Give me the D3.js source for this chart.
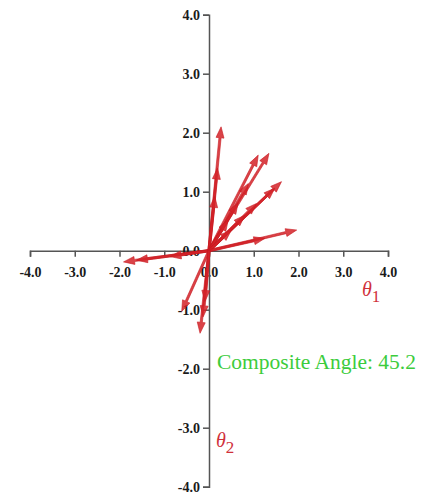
<!DOCTYPE html>
<html lang="en">
    <head>
        <meta charset="utf-8">
        <title>Composite Angle Vectors</title>
        <script type="text/javascript" src="https://d3js.org/d3.v7.min.js"></script>
        <style type="text/css">
            body{
                margin: 0;
                background-color: white;
            }
        </style>
    </head>
    <body>
        <script type="text/javascript">

        //sizes
        const width = 424;
        const height = 500;

        //tick values + labels (same on both axes)
        const tickValues = [-4, -3, -2, -1, 0, 1, 2, 3, 4];
        const tickLabels = ["-4.0", "-3.0", "-2.0", "-1.0", "0.0", "1.0", "2.0", "3.0", "4.0"];

        //arrow tips, every arrow starts at the origin
        const tipX = [0.27, 0.19, 0.13, 1.10, 1.34, 0.88, 0.65, 0.43, 1.62, 1.47, 1.06, 0.80, 0.50, 1.96, 1.25, -1.91, -1.62, -0.87, -0.61, -0.20, -0.13, -0.09];
        const tipY = [2.10, 1.40, 0.92, 1.62, 1.65, 1.14, 0.81, 0.52, 1.17, 1.06, 0.80, 0.60, 0.35, 0.35, 0.21, -0.19, -0.16, -0.10, -1.03, -1.40, -1.12, -0.86];

        //labels
        const compositeAngle = "45.2";

        //SCALES
        const xScale = d3.scaleLinear()
                        .domain([-4, 4])
                        .range([30, 388]);

        const yScale = d3.scaleLinear()
                        .domain([-4, 4])
                        .range([486.7, 14.7]);

        //SVG
        const svg = d3.select("body")
                    .append("svg")
                    .attr("width", width)
                    .attr("height", height);

        //AXES
        const bottomAxis = d3.axisBottom(xScale)
                             .tickValues(tickValues)
                             .tickFormat((d, i) => tickLabels[i])
                             .tickSize(6)
                             .tickPadding(10);

        const leftAxis = d3.axisLeft(yScale)
                           .tickValues(tickValues)
                           .tickFormat((d, i) => tickLabels[i])
                           .tickSize(6)
                           .tickPadding(3);

        const gx = svg.append("g")
            .attr("transform", "translate(0," + yScale(0) + ")")
            .call(bottomAxis);

        const gy = svg.append("g")
            .attr("transform", "translate(" + xScale(0) + ",0)")
            .call(leftAxis);

        //style axes - override d3 defaults on the group
        [gx, gy].forEach(g => {
            g.attr("font-family", "'Liberation Serif', serif")
             .attr("font-size", 14)
             .attr("font-weight", "bold");
            g.selectAll("text").attr("fill", "#1a1a1a");
            g.selectAll(".domain, .tick line")
             .attr("stroke", "#555")
             .attr("stroke-width", 1.5);
        });

        //ARROWS - shaft + head as one polygon
        const arrows = tipX.map((x, i) => ({x: x, y: tipY[i]}));
        const headLen = 11, headHalf = 4, shaftHalf = 1.1;

        function arrowPath(d) {
            const x0 = xScale(0), y0 = yScale(0);
            const x1 = xScale(d.x), y1 = yScale(d.y);
            const len = Math.hypot(x1 - x0, y1 - y0);
            const ux = (x1 - x0) / len, uy = (y1 - y0) / len; //direction
            const nx = -uy, ny = ux; //normal
            const bx = x1 - ux * headLen, by = y1 - uy * headLen; //head base
            const pts = [
                [x0 + nx * shaftHalf, y0 + ny * shaftHalf],
                [bx + nx * shaftHalf, by + ny * shaftHalf],
                [bx + nx * headHalf, by + ny * headHalf],
                [x1, y1],
                [bx - nx * headHalf, by - ny * headHalf],
                [bx - nx * shaftHalf, by - ny * shaftHalf],
                [x0 - nx * shaftHalf, y0 - ny * shaftHalf]
            ];
            return "M" + pts.map(p => p.join(",")).join("L") + "Z";
        }

        svg.selectAll("path.arrow")
            .data(arrows)
            .enter()
            .append("path")
            .attr("class", "arrow")
            .attr("d", arrowPath)
            .attr("fill", "#d42228")
            .attr("fill-opacity", 0.85)
            .attr("stroke", "#c81a20")
            .attr("stroke-width", 0.6);

        //TEXT LABELS
        svg.append("text")
            .attr("x", 217)
            .attr("y", 369)
            .attr("textLength", 199)
            .attr("lengthAdjust", "spacingAndGlyphs")
            .style("font-family", "'Liberation Serif', serif")
            .style("font-size", "20px")
            .attr("fill", "#3ccc3c")
            .text("Composite Angle: " + compositeAngle);

        function thetaLabel(x, y, sub) {
            const t = svg.append("text")
                .attr("x", x)
                .attr("y", y)
                .style("font-family", "'Liberation Serif', serif")
                .attr("fill", "#d0303a");
            t.append("tspan")
                .style("font-style", "italic")
                .style("font-size", "20px")
                .text("θ");
            t.append("tspan")
                .attr("dy", 6)
                .style("font-size", "17px")
                .text(sub);
        }

        thetaLabel(362, 296, "1");
        thetaLabel(216, 447, "2");

        </script>
    </body>
</html>
